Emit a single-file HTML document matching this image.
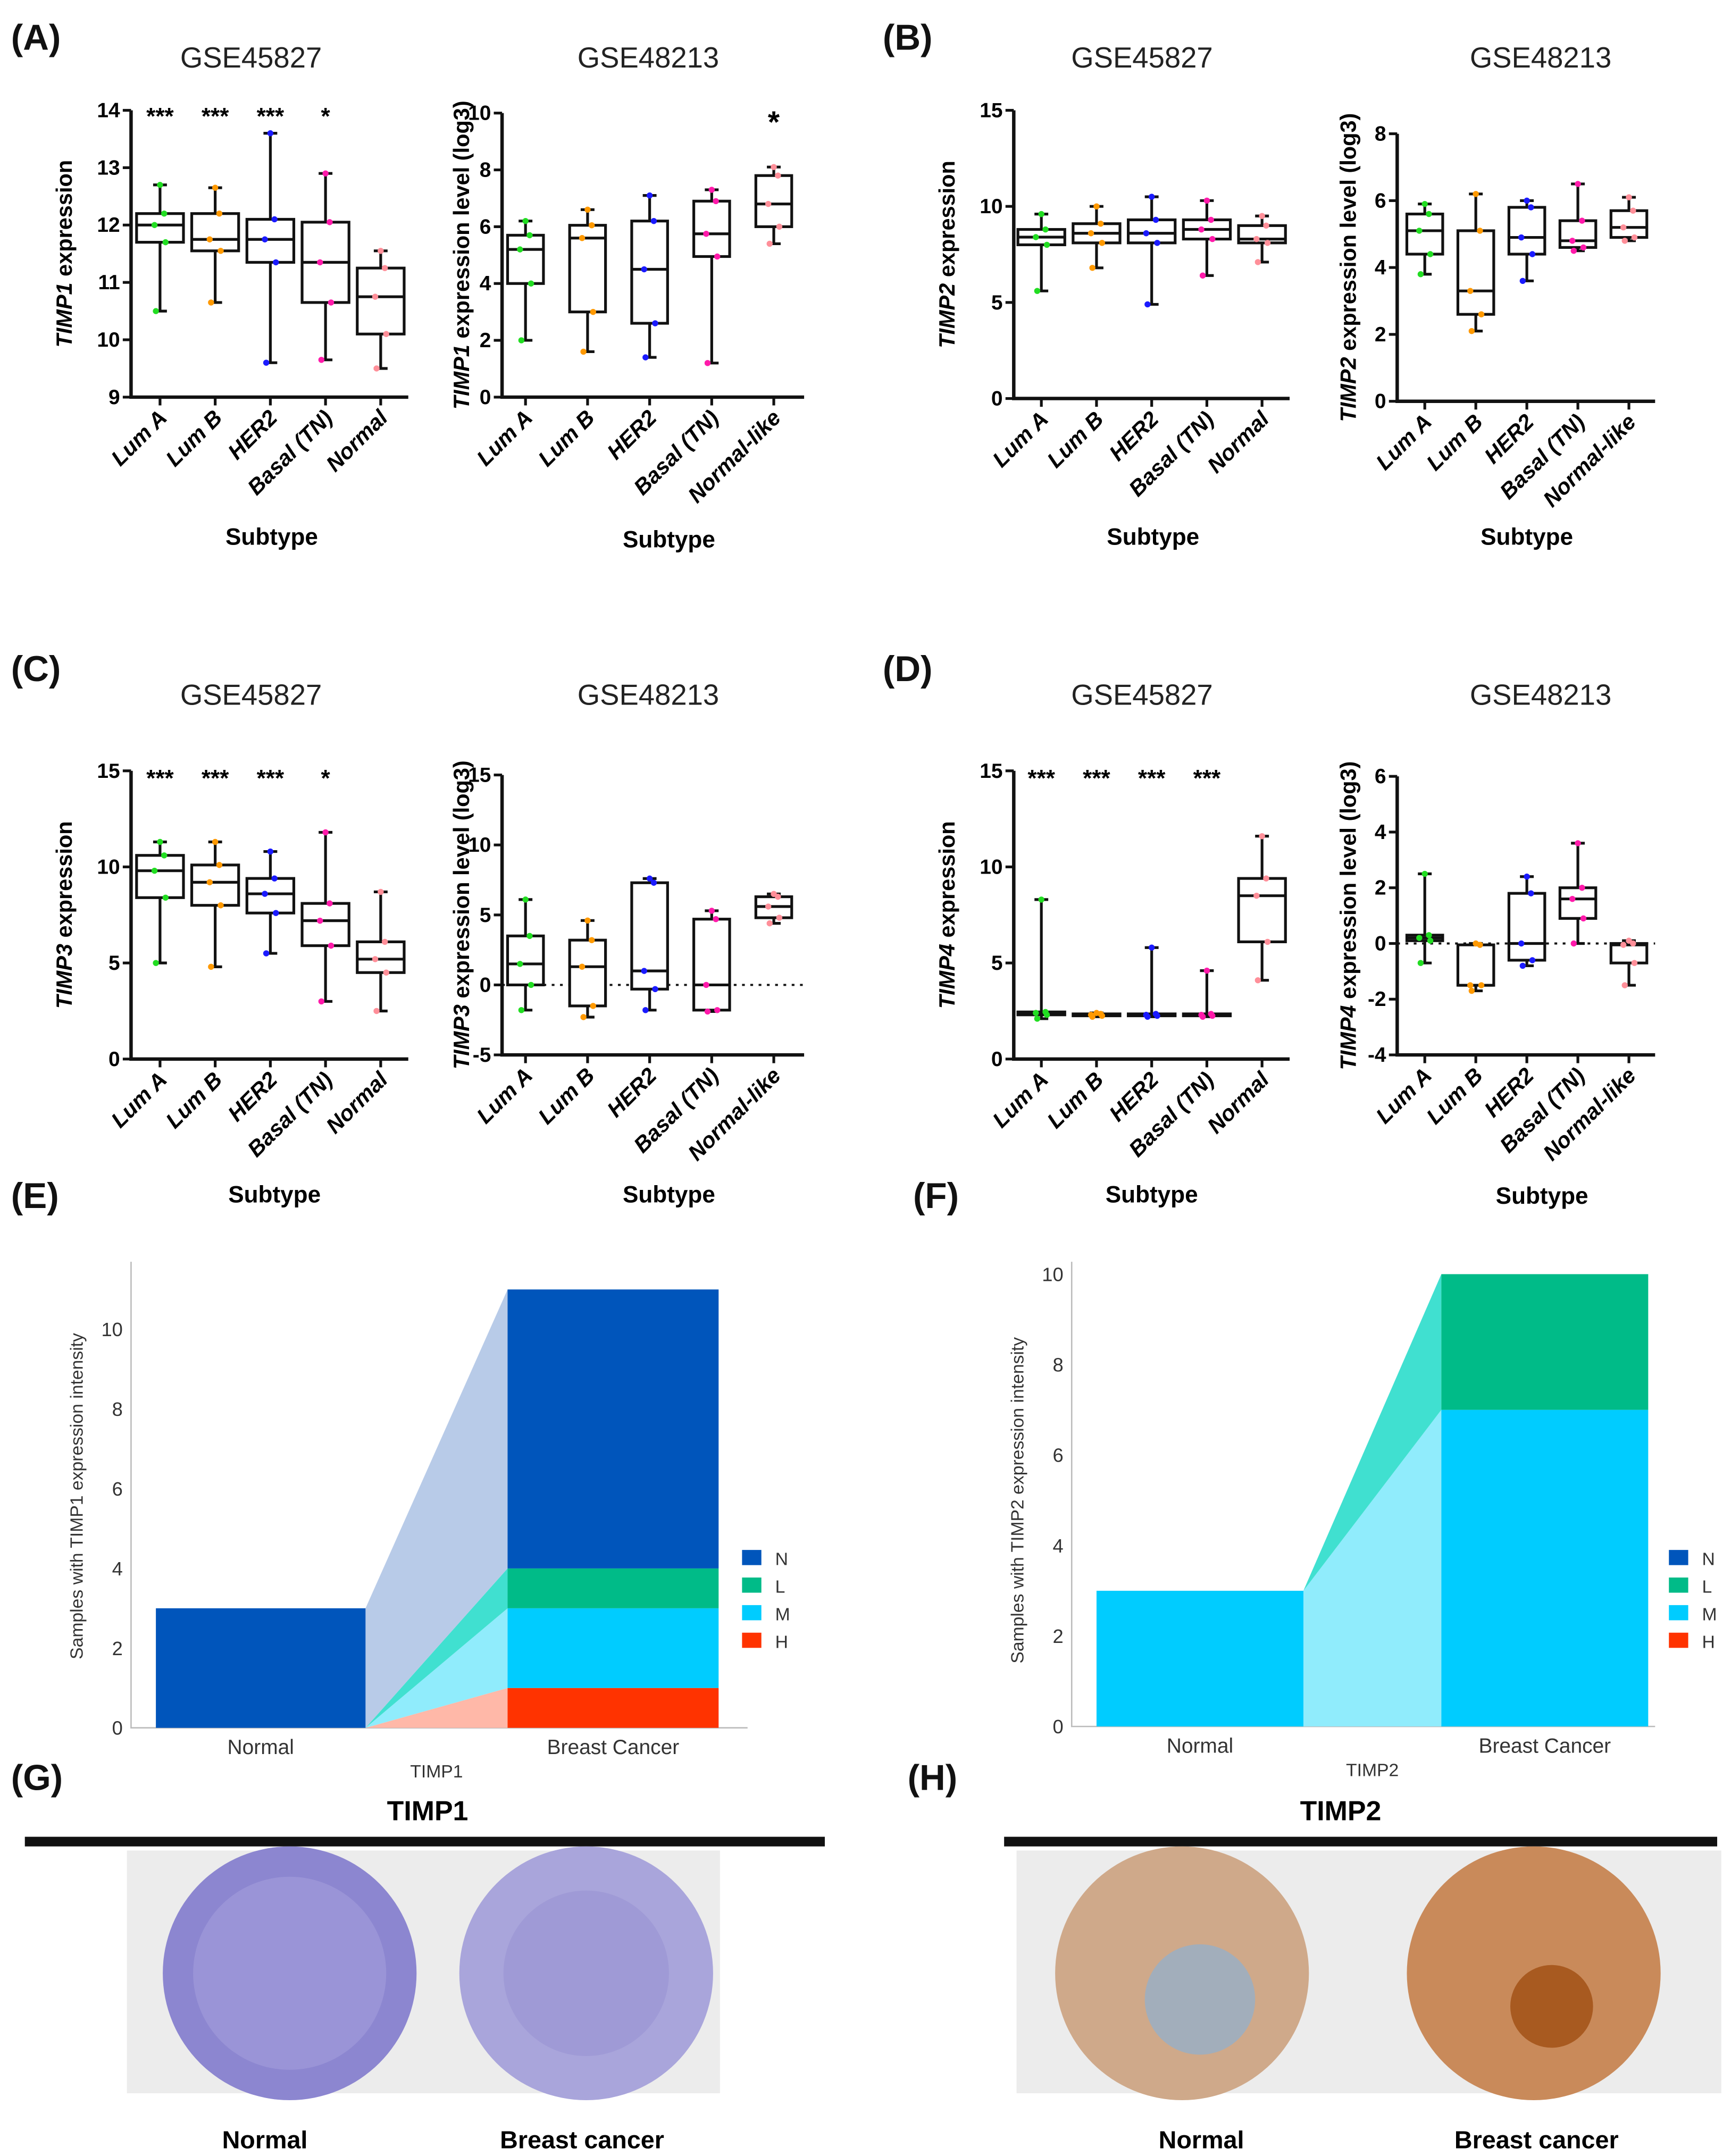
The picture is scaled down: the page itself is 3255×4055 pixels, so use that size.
<!DOCTYPE html>
<html><head><meta charset="utf-8"><style>
html,body{margin:0;padding:0;background:#fff}
svg{display:block;font-family:"Liberation Sans",Arial,sans-serif}
</style></head><body>
<svg id="fig" width="3255" height="4055" viewBox="0 0 1255 1563.5" xmlns="http://www.w3.org/2000/svg">
<rect x="0" y="0" width="1255" height="1564" fill="#fff"/>
<g font-weight="bold" font-size="26" fill="#111">
<text x="8" y="36">(A)</text>
<text x="640" y="36">(B)</text>
<text x="8" y="494">(C)</text>
<text x="640" y="494">(D)</text>
<text x="8" y="876">(E)</text>
<text x="662" y="876">(F)</text>
<text x="8" y="1298">(G)</text>
<text x="658" y="1298">(H)</text>
</g>
<g id="plots"></g>
<g>
<text x="310" y="1320" font-size="20" font-weight="bold" text-anchor="middle">TIMP1</text>
<rect x="18" y="1332" width="580" height="7" fill="#111"/>
<rect x="92" y="1342" width="430" height="176" fill="#ececec"/>
<circle cx="210" cy="1431" r="92" fill="#8c86d0"/>
<circle cx="210" cy="1431" r="70" fill="#a49fdc" opacity="0.6"/>
<circle cx="425" cy="1431" r="92" fill="#a9a5db"/>
<circle cx="425" cy="1431" r="60" fill="#9690d2" opacity="0.5"/>
<text x="192" y="1558" font-size="18" font-weight="bold" text-anchor="middle">Normal</text>
<text x="422" y="1558" font-size="18" font-weight="bold" text-anchor="middle">Breast cancer</text>
</g>
<g>
<text x="972" y="1320" font-size="20" font-weight="bold" text-anchor="middle">TIMP2</text>
<rect x="728" y="1332" width="517" height="7" fill="#111"/>
<rect x="737" y="1342" width="511" height="176" fill="#ececec"/>
<circle cx="857" cy="1431" r="92" fill="#cfa98a"/>
<circle cx="870" cy="1450" r="40" fill="#8fb0d0" opacity="0.7"/>
<circle cx="1112" cy="1431" r="92" fill="#c98a5a"/>
<circle cx="1125" cy="1455" r="30" fill="#a85a20"/>
<text x="871" y="1558" font-size="18" font-weight="bold" text-anchor="middle">Normal</text>
<text x="1114" y="1558" font-size="18" font-weight="bold" text-anchor="middle">Breast cancer</text>
</g>
</svg>
<script>
const NS="http://www.w3.org/2000/svg";
const cats5=["Lum A","Lum B","HER2","Basal (TN)","Normal"];
const cats5b=["Lum A","Lum B","HER2","Basal (TN)","Normal-like"];
const colors=["#22dd22","#ff9900","#1a1aff","#ff1aaa","#ff8f99"];
const a1Box=[[10.5,11.7,12.0,12.2,12.7],[10.65,11.55,11.75,12.2,12.65],[9.6,11.35,11.75,12.1,13.6],[9.65,10.65,11.35,12.05,12.9],[9.5,10.1,10.75,11.25,11.55]];
const a2Box=[[2.0,4.0,5.2,5.7,6.2],[1.6,3.0,5.6,6.05,6.6],[1.4,2.6,4.5,6.2,7.1],[1.2,4.95,5.75,6.9,7.3],[5.4,6.0,6.8,7.8,8.1]];
const b1Box=[[5.6,8.0,8.4,8.8,9.6],[6.8,8.1,8.6,9.1,10.0],[4.9,8.1,8.6,9.3,10.5],[6.4,8.3,8.8,9.3,10.3],[7.1,8.1,8.3,9.0,9.5]];
const b2Box=[[3.8,4.4,5.1,5.6,5.9],[2.1,2.6,3.3,5.1,6.2],[3.6,4.4,4.9,5.8,6.0],[4.5,4.6,4.8,5.4,6.5],[4.8,4.9,5.2,5.7,6.1]];
const c1Box=[[5.0,8.4,9.8,10.6,11.3],[4.8,8.0,9.2,10.1,11.3],[5.5,7.6,8.6,9.4,10.8],[3.0,5.9,7.2,8.1,11.8],[2.5,4.5,5.2,6.1,8.7]];
const c2Box=[[-1.8,0,1.5,3.5,6.1],[-2.3,-1.5,1.3,3.2,4.6],[-1.8,-0.3,1.0,7.3,7.6],[-1.9,-1.8,0,4.7,5.3],[4.4,4.8,5.6,6.3,6.5]];
const d1Box=[[2.1,2.3,2.4,2.45,8.3],[2.2,2.25,2.3,2.35,2.4],[2.2,2.25,2.3,2.35,5.8],[2.2,2.25,2.3,2.35,4.6],[4.1,6.1,8.5,9.4,11.6]];
const d2Box=[[-0.7,0.1,0.2,0.3,2.5],[-1.7,-1.5,-1.5,-0.05,0],[-0.8,-0.6,0,1.8,2.4],[0,0.9,1.6,2.0,3.6],[-1.5,-0.7,-0.05,0,0.1]];
const a1Stars=["***","***","***","*",""];
const a2Stars=["","","","","*"];
const c1Stars=["***","***","***","*",""];
const d1Stars=["***","***","***","***",""];
const none5=["","","","",""];
const a1Ticks=[9,10,11,12,13,14], a2Ticks=[0,2,4,6,8,10], b1Ticks=[0,5,10,15], b2Ticks=[0,2,4,6,8];
const c1Ticks=[0,5,10,15], c2Ticks=[-5,0,5,10,15], d1Ticks=[0,5,10,15], d2Ticks=[-4,-2,0,2,4,6];

function mk(tag,attrs,parent){const e=document.createElementNS(NS,tag);for(const k in attrs)e.setAttribute(k,attrs[k]);(parent||document.getElementById('plots')).appendChild(e);return e;}

function boxPanel(id,cfg,cats,box,stars,ticks,gene,ylab,title,zeroLine){
  const g=mk('g',{});
  
  
  const vmin=cfg.vmin,vmax=cfg.vmax;
  const y=v=>cfg.yb-(v-vmin)/(vmax-vmin)*(cfg.yb-cfg.yt);
  const t=mk('text',{x:cfg.tx,y:cfg.ty,'font-size':21,'text-anchor':'middle',fill:'#222'},g);t.textContent=title;
  
  
  const ax=mk('path',{d:`M${cfg.x0},${cfg.yt}V${cfg.yb}H${cfg.x1}`,stroke:'#111','stroke-width':2.5,fill:'none'},g);
  
  
  ticks.forEach(v=>{
    mk('line',{x1:cfg.x0-6,x2:cfg.x0,y1:y(v),y2:y(v),stroke:'#111','stroke-width':2},g);
    const tl=mk('text',{x:cfg.x0-8,y:y(v)+5,'font-size':15,'font-weight':'bold','text-anchor':'end'},g);tl.textContent=v;
    
    
  });
  if(zeroLine){mk('line',{x1:cfg.x0,x2:cfg.x1,y1:y(0),y2:y(0),stroke:'#111','stroke-width':1.5,'stroke-dasharray':'2,4'},g);}
  const yl=mk('text',{transform:`translate(${cfg.ylx},${(cfg.yt+cfg.yb)/2}) rotate(-90)`,'font-size':16,'font-weight':'bold','text-anchor':'middle'},g);
  yl.innerHTML=`<tspan font-style="italic">${gene}</tspan> ${ylab}`;
  
  
  const xl=mk('text',{x:cfg.xlx,y:cfg.xly,'font-size':17,'font-weight':'bold','text-anchor':'middle'},g);xl.textContent='Subtype';
  
  
  box.forEach((b,i)=>{
    const cx=cfg.c0+cfg.dc*i,w=cfg.w;
    mk('line',{x1:cx,x2:cx,y1:cfg.yb,y2:cfg.yb+6,stroke:'#111','stroke-width':2},g);
    const bg=mk('g',{},g);
    
    
    mk('line',{x1:cx,x2:cx,y1:y(b[0]),y2:y(b[4]),stroke:'#111','stroke-width':2},bg);
    mk('line',{x1:cx-5,x2:cx+5,y1:y(b[0]),y2:y(b[0]),stroke:'#111','stroke-width':2},bg);
    mk('line',{x1:cx-5,x2:cx+5,y1:y(b[4]),y2:y(b[4]),stroke:'#111','stroke-width':2},bg);
    mk('rect',{x:cx-w/2,y:y(b[3]),width:w,height:Math.max(1,y(b[1])-y(b[3])),fill:'#fff',stroke:'#111','stroke-width':2},bg);
    mk('line',{x1:cx-w/2,x2:cx+w/2,y1:y(b[2]),y2:y(b[2]),stroke:'#111','stroke-width':2},bg);
    [b[0],b[1],b[2],b[3],b[4]].forEach((v,k)=>{mk('circle',{cx:cx+[-3,4,-4,3,0][k],cy:y(v),r:2.2,fill:colors[i]},bg);});
    const cl=mk('text',{transform:`translate(${cx+6},${cfg.yb+16}) rotate(-45)`,'font-size':16,'font-weight':'bold','font-style':'italic','text-anchor':'end'},g);cl.textContent=cats[i];
    
    
    if(stars[i]){const s=mk('text',{x:cx,y:cfg.sy,'font-size':cfg.ss||17,'font-weight':'bold','text-anchor':'middle'},g);s.textContent=stars[i];
      
      }
  });
}
boxPanel('plot-a-gse45827',{x0:95,x1:296,yt:80,yb:288,vmin:9,vmax:14,c0:116,dc:40,w:34,tx:182,ty:49,ylx:52,xlx:197,xly:395,sy:90},cats5,a1Box,a1Stars,a1Ticks,'TIMP1','expression','GSE45827');
boxPanel('plot-a-gse48213',{x0:364,x1:583,yt:82,yb:288,vmin:0,vmax:10,c0:381,dc:45,w:26,tx:470,ty:49,ylx:340,xlx:485,xly:397,sy:96,ss:22},cats5b,a2Box,a2Stars,a2Ticks,'TIMP1','expression level (log3)','GSE48213');
boxPanel('plot-b-gse45827',{x0:735,x1:935,yt:80,yb:289,vmin:0,vmax:15,c0:755,dc:40,w:34,tx:828,ty:49,ylx:692,xlx:836,xly:395,sy:90},cats5,b1Box,none5,b1Ticks,'TIMP2','expression','GSE45827');
boxPanel('plot-b-gse48213',{x0:1013,x1:1200,yt:97,yb:291,vmin:0,vmax:8,c0:1033,dc:37,w:26,tx:1117,ty:49,ylx:983,xlx:1107,xly:395,sy:96},cats5b,b2Box,none5,b2Ticks,'TIMP2','expression level (log3)','GSE48213');
boxPanel('plot-c-gse45827',{x0:95,x1:296,yt:559,yb:768,vmin:0,vmax:15,c0:116,dc:40,w:34,tx:182,ty:511,ylx:52,xlx:199,xly:872,sy:570},cats5,c1Box,c1Stars,c1Ticks,'TIMP3','expression','GSE45827');
boxPanel('plot-c-gse48213',{x0:364,x1:583,yt:562,yb:765,vmin:-5,vmax:15,c0:381,dc:45,w:26,tx:470,ty:511,ylx:340,xlx:485,xly:872,sy:570},cats5b,c2Box,none5,c2Ticks,'TIMP3','expression level (log3)','GSE48213',true);
boxPanel('plot-d-gse45827',{x0:735,x1:935,yt:559,yb:768,vmin:0,vmax:15,c0:755,dc:40,w:34,tx:828,ty:511,ylx:692,xlx:835,xly:872,sy:570},cats5,d1Box,d1Stars,d1Ticks,'TIMP4','expression','GSE45827');
boxPanel('plot-d-gse48213',{x0:1013,x1:1200,yt:563,yb:765,vmin:-4,vmax:6,c0:1033,dc:37,w:26,tx:1117,ty:511,ylx:983,xlx:1118,xly:873,sy:570},cats5b,d2Box,none5,d2Ticks,'TIMP4','expression level (log3)','GSE48213',true);

const levels=["N","L","M","H"];
const levelColors={N:"#0055bb",L:"#00bb88",M:"#00ccff",H:"#ff3300"};
const lightColors={N:"#b8cbe8",L:"#40e0d0",M:"#90ecfc",H:"#ffb8a8"};
const stackOrder=["H","M","L","N"];
const groups=["Normal","Breast Cancer"];
const eNormal={N:3,L:0,M:0,H:0};
const eCancer={N:7,L:1,M:2,H:1};
const fNormal={N:0,L:0,M:3,H:0};
const fCancer={N:0,L:3,M:7,H:0};
const eTicks=[0,2,4,6,8,10];
const fTicks=[0,2,4,6,8,10];
function areaPanel(id,cfg,normal,cancer,ticks,gene){
  const g=mk('g',{});
  
  
  const y=v=>cfg.yb-v*cfg.k;
  ticks.forEach(v=>{const tl=mk('text',{x:cfg.x0-6,y:y(v)+5,'font-size':14,'text-anchor':'end',fill:'#333'},g);tl.textContent=v;
    
    });
  mk('path',{d:`M${cfg.x0},${cfg.yt}V${cfg.yb}H${cfg.x1}`,stroke:'#bbb','stroke-width':1,fill:'none'},g);
  let s1=0,s2=0;
  stackOrder.forEach(l=>{
    const a=normal[l],b=cancer[l];
    if(a+b===0){return;}
    const p=mk('path',{d:`M${cfg.n1},${y(s1)}L${cfg.c0},${y(s2)}L${cfg.c0},${y(s2+b)}L${cfg.n1},${y(s1+a)}Z`,fill:lightColors[l]},g);
    
    
    if(a>0){const r=mk('rect',{x:cfg.n0,y:y(s1+a),width:cfg.n1-cfg.n0,height:a*cfg.k,fill:levelColors[l]},g);
      
      }
    if(b>0){const r=mk('rect',{x:cfg.c0,y:y(s2+b),width:cfg.c1-cfg.c0,height:b*cfg.k,fill:levelColors[l]},g);
      
      }
    s1+=a;s2+=b;
  });
  const xs=[(cfg.n0+cfg.n1)/2,(cfg.c0+cfg.c1)/2];
  groups.forEach((gr,i)=>{const t=mk('text',{x:xs[i],y:cfg.yb+19,'font-size':15,'text-anchor':'middle',fill:'#333'},g);t.textContent=gr;
    
    });
  const xt=mk('text',{x:(cfg.n1+cfg.c0)/2,y:cfg.yb+36,'font-size':13,'text-anchor':'middle',fill:'#333'},g);xt.textContent=gene;
  
  
  const yl=mk('text',{transform:`translate(${cfg.ylx},${cfg.yly}) rotate(-90)`,'font-size':13,'text-anchor':'middle',fill:'#333'},g);yl.textContent=`Samples with ${gene} expression intensity`;
  
  
  levels.forEach((l,i)=>{
    const lg=mk('g',{},g);
    
    
    mk('rect',{x:cfg.lx,y:cfg.ly+i*20-6,width:14,height:11,fill:levelColors[l]},lg);
    const t=mk('text',{x:cfg.lx+24,y:cfg.ly+i*20+5,'font-size':13,fill:'#333'},lg);t.textContent=l;
  });
}
areaPanel('chart-e-timp1',{x0:95,x1:542,yt:915,yb:1253,k:28.9,n0:113,n1:265,c0:368,c1:521,ylx:60,yly:1085,lx:538,ly:1130},eNormal,eCancer,eTicks,'TIMP1');
areaPanel('chart-f-timp2',{x0:777,x1:1200,yt:915,yb:1252,k:32.8,n0:795,n1:945,c0:1045,c1:1195,ylx:742,yly:1088,lx:1210,ly:1130},fNormal,fCancer,fTicks,'TIMP2');
</script>
</body></html>
